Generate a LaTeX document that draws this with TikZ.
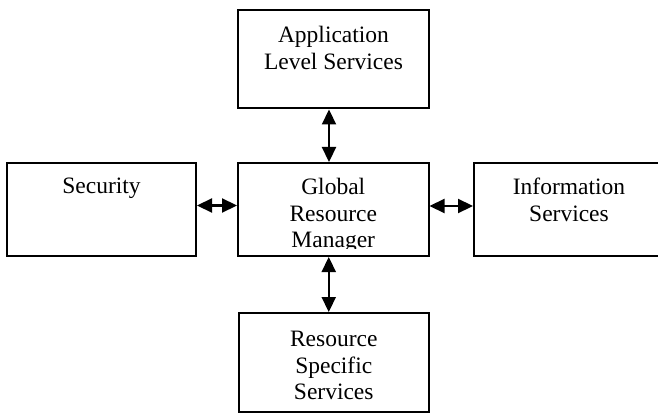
\documentclass[tikz,border=0pt]{standalone}
\usepackage{fontspec}
\setmainfont{Liberation Serif}
\usetikzlibrary{arrows.meta}
\begin{document}
\begin{tikzpicture}[x=1pt,y=-1pt,
    blockbox/.style={draw=black,line width=2pt,fill=white,shape=rectangle,inner sep=0pt},
    blocktext/.style={anchor=north,align=center,inner sep=0pt,font=\fontsize{23.5}{26.5}\selectfont},
    dblarrow/.style={line width=2.2pt,{Triangle[length=15pt,width=14pt]}-{Triangle[length=15pt,width=14pt]}}]
    \useasboundingbox (0,0) rectangle (658,414);
    \clip (0,0) rectangle (658,414);
    % boxes
    \node[blockbox,minimum width=191pt,minimum height=98.5pt] (app) at (333.5,59.25) {};
    \node[blockbox,minimum width=189pt,minimum height=93pt] (sec) at (101.5,209.5) {};
    \node[blockbox,minimum width=190.5pt,minimum height=93pt] (grm) at (333.25,209.5) {};
    \node[blockbox,minimum width=190pt,minimum height=93pt] (info) at (569,209.5) {};
    \node[blockbox,minimum width=190.5pt,minimum height=99pt] (res) at (333.75,362.5) {};
    % texts
    \node[blocktext] (apptext) at ([yshift=-17]app.north) {Application\\Level Services};
    \node[blocktext] (sectext) at ([yshift=-16]sec.north) {Security};
    \node[blocktext] (infotext) at ([yshift=-16]info.north) {Information\\Services};
    \node[blocktext] (restext) at ([yshift=-19]res.north) {Resource\\Specific\\Services};
    \begin{scope}
      \clip (grm.north west) rectangle ([yshift=9]grm.south east);
      \node[blocktext] (grmtext) at ([yshift=-16]grm.north) {Global\\Resource\\Manager};
    \end{scope}
    % connectors
    \draw[dblarrow] ([xshift=-4.5]app.south) -- ([xshift=-4.5]app.south |- grm.north);
    \draw[dblarrow] ([xshift=-4.5]grm.south) -- ([xshift=-4.5]grm.south |- res.north);
    \draw[dblarrow] ([yshift=4]sec.east) -- ([yshift=4]sec.east -| grm.west);
    \draw[dblarrow] ([yshift=3.5]grm.east) -- ([yshift=3.5]grm.east -| info.west);
\end{tikzpicture}
\end{document}
